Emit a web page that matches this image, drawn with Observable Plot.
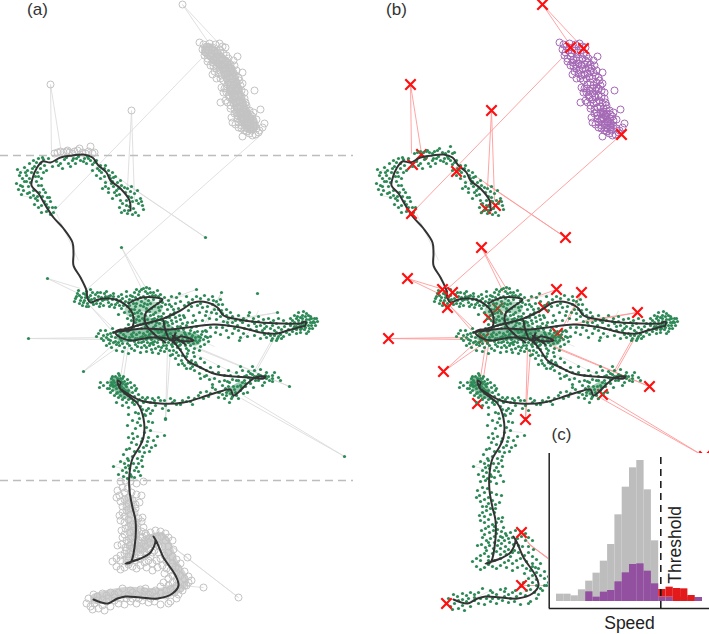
<!DOCTYPE html>
<html><head><meta charset="utf-8">
<script src="https://cdn.jsdelivr.net/npm/d3@7"></script>
<script src="https://cdn.jsdelivr.net/npm/@observablehq/plot@0.6"></script>
<style>html,body{margin:0;padding:0;background:#fff}#wrap{position:relative;width:709px;height:634px;overflow:hidden}#wrap svg{display:block}#inset{position:absolute;left:548px;top:453px;background:#fff}</style>
</head><body><div id="wrap"><div id="main"></div><div id="inset"></div></div>
<script>
// Track positions (map units)
const trackMain=[[130,210],[129,200],[120,188],[110,180],[106,172],[98,165],[92,157],[83,154],[72,155],[60,157],[50,162],[42,161],[36,168],[32,178],[31,185],[38,193],[45,205],[53,217],[63,228],[72,242],[73,253],[73,265],[80,277],[86,290],[87,298],[90,302],[98,299],[110,298],[120,301],[128,307],[132,313],[133,323],[129,330],[120,329],[115,332],[120,337],[132,340],[150,337],[170,339],[180,350],[187,360],[200,367],[213,373],[233,376],[250,377],[263,378],[265,376],[255,377],[248,382],[233,395],[230,389],[223,390],[207,395],[183,402],[160,403],[140,400],[127,393],[119,387],[117,380],[120,382],[119,387],[127,395],[137,403],[143,418],[143,437],[138,448],[132,458],[129,473],[129,490],[132,507],[135,520],[134,547],[130,562],[125,563],[140,558],[150,552],[155,540],[153,536],[156,541],[163,557],[175,575],[178,585],[172,593],[157,598],[140,597],[125,596],[117,598],[107,603],[93,599]];
const trackUpper=[[128,303],[142,297],[162,299],[153,306],[145,313],[145,323],[153,333],[165,342]];
const trackRight=[[113,332],[137,325],[163,318],[180,310],[193,302],[207,302],[217,307],[223,315],[233,318],[260,322],[283,323],[300,323],[305,321],[305,325],[302,326],[287,330],[277,333],[260,332],[240,327],[213,324],[187,327],[167,329],[143,328],[120,331]];
const trackCore=[[163,320],[165,330],[170,340],[175,333],[172,342],[180,336],[193,340],[178,340],[172,335],[185,344]];
// Observations below the speed threshold, central section
const arcDots=[[17,169],[20,172],[24,167],[29,163],[33,160],[38,158],[42,157],[27,170],[34,166],[22,178],[26,175],[31,172],[16,183],[20,185],[24,181],[28,186],[37,172],[40,168],[44,165],[18,189],[23,190],[27,193],[33,190],[38,185],[41,178],[30,197],[35,198],[39,192],[43,189],[47,197],[34,204],[38,207],[44,201],[48,207],[41,212],[46,211],[52,207],[37,200],[50,214],[55,207],[43,159],[48,158],[52,166],[56,161],[60,163],[64,159],[68,163],[72,160],[76,158],[70,166],[62,168],[80,160],[84,158],[86,163],[90,160],[94,162],[97,168],[92,170],[100,165],[101,172],[96,175],[104,176],[108,170],[112,172],[100,178],[105,182],[110,178],[115,176],[117,182],[102,188],[108,188],[113,186],[120,180],[124,187],[108,192],[114,192],[119,194],[125,192],[112,198],[130,191],[134,193],[136,200],[128,196],[122,203],[119,207],[124,210],[129,206],[133,208],[138,203],[142,205],[143,209],[127,213],[132,214],[138,215],[121,212],[137,190],[126,200],[35,176],[29,178],[21,194],[46,170],[58,165],[75,163],[88,158],[104,168],[112,181],[118,188],[132,201],[140,198],[19,175],[25,172],[36,162],[40,163],[32,168],[43,172],[38,176],[30,182],[26,181],[22,186],[36,181],[41,185],[33,195],[29,192],[37,196],[42,196],[45,192],[50,201],[41,205],[46,204],[53,212],[49,197],[66,157],[73,158],[78,156],[83,161],[87,156],[92,164],[96,160],[99,170],[105,165],[109,175],[113,177],[105,186],[111,183],[116,190],[121,185],[127,188],[131,186],[126,205],[120,200],[135,212],[131,197],[128,210],[141,201],[116,195]];
const westDots=[[76,296],[78,290],[80,300],[83,293],[85,297],[87,303],[82,305],[90,295],[92,292],[94,298],[96,303],[98,296],[100,292],[102,300],[105,296],[108,302],[110,295],[112,299],[115,304],[118,296],[86,291],[89,300],[93,304],[99,306],[106,291],[103,305],[113,293],[120,300],[74,301],[79,295],[84,300],[88,306],[91,299],[95,294],[101,297],[107,299],[111,304],[116,299],[121,294],[104,293],[77,293],[81,297],[85,294],[88,297],[92,302],[97,300],[100,303],[104,299],[108,296],[113,296],[117,302],[97,292],[90,289],[83,302],[79,303],[75,298],[86,306],[109,306],[119,305],[123,305],[114,307]];
const upperDots=[[122,298],[126,291],[130,295],[134,292],[138,294],[141,289],[145,291],[149,288],[153,292],[157,290],[160,294],[164,297],[168,300],[171,296],[125,301],[129,299],[133,303],[137,299],[141,301],[145,298],[149,296],[153,299],[157,303],[161,306],[165,304],[127,306],[131,309],[135,306],[139,310],[143,306],[147,304],[151,308],[155,312],[159,310],[163,313],[167,309],[171,306],[175,303],[130,315],[134,313],[138,316],[142,318],[146,311],[150,315],[154,318],[158,316],[162,320],[166,317],[170,314],[174,312],[178,308],[131,320],[135,322],[139,320],[143,323],[147,319],[151,322],[155,325],[159,323],[163,326],[167,322],[171,320],[175,317],[179,315],[124,312],[127,318],[121,308],[118,314],[128,324],[133,327],[137,325],[141,328],[145,326],[149,329],[153,327],[157,330],[148,300],[144,303],[136,289],[152,295],[140,297],[132,300],[160,300],[169,304],[173,309],[126,296],[150,292],[146,287],[158,296],[128,302],[136,303],[134,309],[140,305],[146,308],[150,303],[154,306],[158,307],[162,302],[129,311],[133,317],[137,312],[141,313],[145,315],[149,311],[153,314],[157,319],[161,316],[165,321],[169,317],[173,314],[136,319],[140,324],[144,320],[148,323],[152,319],[156,322],[160,319],[164,323],[168,325],[172,323],[176,321],[180,319],[184,317],[129,305],[143,296],[155,295],[147,293],[139,291],[143,288],[132,296],[135,297]];
const coreDots=[[103,335],[105,330],[108,339],[110,333],[112,328],[113,342],[115,337],[117,331],[119,345],[121,340],[123,334],[125,328],[127,343],[129,337],[131,348],[133,332],[135,344],[137,338],[139,332],[141,347],[143,341],[145,335],[147,331],[149,345],[151,339],[153,333],[155,348],[157,342],[159,336],[161,331],[163,345],[165,339],[167,334],[169,350],[171,344],[173,338],[175,332],[177,347],[179,341],[181,335],[183,329],[185,345],[187,339],[189,333],[191,327],[193,343],[195,337],[197,331],[199,340],[201,334],[203,339],[205,336],[98,333],[101,338],[106,345],[111,347],[116,350],[122,351],[128,353],[134,350],[140,352],[146,351],[152,352],[158,353],[164,351],[170,355],[176,352],[182,355],[188,350],[194,348],[200,346],[175,358],[181,360],[186,356],[191,360],[196,364],[184,365],[190,368],[200,358],[204,362],[178,364],[166,345],[161,347],[156,337],[148,336],[142,336],[136,334],[130,340],[124,338],[118,342],[109,343],[113,332],[107,334],[120,332],[127,331],[132,336],[138,342],[144,345],[150,343],[168,342],[174,343],[180,344],[186,336],[192,335],[198,336],[172,328],[177,326],[182,323],[187,322],[192,322],[160,328],[155,329],[150,333],[178,330],[184,332],[190,330],[196,326],[202,331],[111,336],[115,341],[118,335],[122,343],[125,336],[128,340],[131,334],[134,341],[137,346],[140,337],[143,333],[146,339],[149,334],[152,342],[155,336],[158,332],[161,339],[164,335],[167,330],[170,337],[173,342],[176,336],[179,345],[182,339],[185,334],[188,342],[191,337],[194,332],[197,342],[200,337],[168,338],[163,342],[158,346],[153,344],[147,342],[141,342],[135,338],[129,345],[124,347],[120,338],[116,344],[110,340],[106,337],[176,342],[172,346],[178,337],[183,342],[186,348],[190,345],[195,340],[165,333],[170,333],[175,329],[180,326],[186,325],[162,336],[158,339],[154,341],[150,337],[146,347],[151,349],[160,350],[166,348],[173,350],[180,349],[187,353],[193,352],[199,350],[204,344],[208,341],[210,336],[206,331],[103,340],[100,330],[96,336],[182,363],[188,362],[194,356],[172,354],[178,355]];
const eastDots=[[176,297],[180,301],[184,305],[179,293],[188,302],[186,296],[192,299],[196,296],[200,298],[204,295],[208,299],[212,296],[216,301],[220,299],[197,305],[202,307],[207,306],[212,304],[218,309],[222,304],[226,309],[230,312],[222,313],[216,313],[226,315],[232,316],[211,312],[205,315],[199,312],[193,315],[188,310],[183,315],[195,320],[202,320],[209,318],[216,319],[223,321],[235,320],[238,315],[243,318],[248,315],[253,318],[258,316],[263,319],[268,318],[273,320],[278,318],[283,320],[237,325],[242,322],[248,325],[254,323],[260,325],[266,326],[272,325],[278,327],[284,326],[290,325],[215,332],[220,334],[226,330],[232,333],[238,330],[243,333],[240,337],[247,336],[254,335],[260,338],[266,337],[271,340],[277,338],[283,336],[289,334],[274,335],[268,333],[262,330],[256,330],[250,329],[244,328],[205,330],[210,327],[216,327],[222,327],[228,325],[234,328],[276,340],[281,338],[239,340],[207,337],[228,337],[213,300],[218,304],[221,310],[228,318],[214,309],[206,311],[200,303],[191,306],[220,316],[227,322],[232,322],[240,320],[246,320],[252,321],[258,321],[264,323],[270,322],[276,323],[281,329],[270,328],[264,328],[256,326],[274,330],[270,335],[264,334],[280,334],[286,332],[276,332],[278,336],[272,338]];
const farEastDots=[[290,318],[294,315],[298,312],[302,315],[306,313],[310,316],[314,318],[317,321],[315,325],[312,328],[308,331],[304,329],[300,332],[296,329],[292,331],[288,329],[294,322],[298,320],[302,321],[306,319],[310,322],[304,325],[299,326],[294,326],[290,323],[312,322],[308,325],[305,316],[300,317],[296,318],[303,311],[309,319],[313,321],[301,328],[306,333],[296,333],[286,323],[316,318],[298,323],[302,318],[306,322],[309,328],[305,327],[311,325],[314,322],[292,320],[296,326],[300,329],[308,315],[303,323],[293,328],[297,316],[311,318],[301,325]];
const riverDots=[[190,363],[194,370],[199,373],[204,376],[209,379],[214,378],[219,381],[224,380],[229,382],[195,362],[200,367],[206,370],[212,372],[218,372],[224,375],[230,375],[236,372],[242,370],[248,371],[254,370],[260,369],[266,372],[272,375],[278,377],[260,375],[266,378],[255,380],[250,383],[245,386],[240,390],[235,392],[231,398],[226,395],[240,385],[236,380],[246,375],[252,374],[258,380],[264,382],[272,381],[280,380],[225,388],[219,392],[215,389],[228,390],[233,386],[229,402],[238,398],[243,393],[224,398],[218,397],[238,376],[232,379],[244,380],[248,377],[256,376],[265,375],[272,378],[262,385],[253,387],[247,392],[230,393],[234,389],[237,386],[242,382],[226,392],[222,394],[228,386],[232,396],[236,395],[241,387],[245,383],[250,379],[254,376],[258,374],[262,377],[268,376],[269,380],[274,372],[250,373],[244,376],[238,380],[222,385],[227,381],[206,375],[200,378],[192,366],[186,368],[210,367],[218,366],[228,370],[240,366],[252,366],[212,384]];
const southWestDots=[[99,387],[103,385],[107,382],[111,378],[115,376],[119,375],[123,376],[127,379],[130,382],[134,385],[110,385],[114,382],[118,380],[122,383],[126,386],[112,390],[116,388],[120,391],[124,393],[128,390],[132,392],[136,388],[114,395],[118,397],[122,399],[126,402],[130,398],[134,396],[138,394],[142,397],[116,402],[122,405],[128,407],[134,404],[140,406],[113,380],[117,384],[121,386],[125,390],[129,395],[133,400],[137,401],[110,392],[107,388],[120,378],[124,381],[117,392],[112,384],[145,399],[150,402],[155,405],[160,400],[165,405],[170,398],[176,404],[182,400],[188,397],[194,398],[200,392],[206,391],[212,387],[218,392],[148,408],[154,400],[162,408],[172,402],[180,404],[190,401],[198,395],[208,396],[165,418],[138,413],[146,410],[111,382],[115,385],[119,387],[123,388],[127,392],[113,386],[117,378],[121,381],[125,384],[116,393],[120,395],[124,397],[128,399],[132,402],[109,388],[112,376],[118,373],[122,378],[127,383],[131,387],[135,390],[139,399],[143,402],[147,397],[152,398],[158,397],[164,400],[174,400],[186,401],[192,404],[203,398],[210,393],[152,410],[168,410],[144,414],[100,382]];
const stemDots=[[135,412],[139,418],[145,415],[148,421],[132,420],[135,428],[140,425],[146,427],[150,430],[132,433],[137,436],[142,438],[148,437],[153,440],[157,436],[164,435],[131,442],[136,444],[141,441],[146,445],[151,447],[129,448],[134,451],[139,451],[144,452],[149,451],[123,454],[127,458],[132,456],[137,458],[142,456],[124,463],[128,465],[133,463],[138,463],[141,460],[113,466],[122,470],[126,472],[130,474],[134,470],[138,471],[127,478],[131,476],[134,477],[129,468],[125,467],[128,414],[142,409],[150,413],[127,425],[152,422],[137,422],[144,432],[128,437],[155,445],[147,441],[133,438],[126,449],[143,447],[128,460],[136,467],[142,466],[120,461],[118,474],[123,476],[140,475]];
// Observations near the northern edge (grey rings in panel a)
const arcRings=[[54,153],[57,152],[60,151],[63,152],[66,151],[69,152],[72,153],[74,151],[77,150],[79,148],[82,152],[85,153],[90,146],[88,151],[92,153],[94,152],[67,150]];
// Northern roost cluster (grey rings in a, purple rings in b)
const topRings=[[199,42],[203,44],[206,46],[209,43],[212,47],[215,44],[219,43],[222,46],[225,47],[202,49],[205,52],[208,50],[211,53],[214,50],[217,52],[220,50],[223,53],[226,55],[204,55],[207,58],[210,56],[213,59],[216,57],[219,60],[222,58],[225,60],[228,58],[207,61],[212,62],[215,64],[218,63],[221,65],[224,64],[227,62],[230,64],[233,60],[237,56],[216,68],[219,70],[222,68],[225,69],[228,67],[231,68],[234,65],[212,74],[214,71],[218,73],[221,75],[224,74],[227,73],[230,71],[233,72],[236,70],[220,78],[223,80],[226,78],[229,76],[232,78],[235,75],[238,77],[242,72],[221,87],[224,88],[227,84],[230,82],[233,85],[236,82],[239,80],[242,83],[226,92],[229,90],[232,93],[235,90],[238,88],[241,90],[254,90],[220,102],[225,100],[229,97],[232,99],[235,97],[238,95],[241,96],[244,98],[230,105],[233,103],[236,102],[239,100],[242,103],[245,102],[230,108],[234,109],[237,107],[240,106],[243,108],[246,105],[260,109],[234,113],[237,115],[240,113],[243,111],[246,113],[249,110],[253,112],[237,118],[240,120],[243,118],[246,116],[249,118],[252,116],[232,122],[235,124],[238,122],[241,125],[244,123],[247,121],[250,123],[253,120],[256,119],[241,128],[244,127],[247,125],[250,127],[253,125],[256,128],[259,130],[262,127],[242,136],[246,131],[249,133],[252,135],[255,134],[258,132],[264,123],[216,78],[227,102],[231,117],[213,66],[216,60],[210,65],[226,88],[223,92],[234,95],[244,92],[240,85],[236,87],[246,108],[241,118],[236,112],[250,114],[247,128],[244,130],[238,127],[251,130],[228,95],[232,88],[245,115]];
const lowRings=[[120,481],[125,480],[130,481],[136,483],[143,481],[119,495],[117,490],[122,487],[127,488],[131,492],[136,494],[141,495],[116,497],[120,501],[124,499],[128,503],[132,500],[135,504],[139,502],[119,515],[122,512],[126,510],[130,514],[134,512],[138,518],[142,517],[120,520],[124,522],[128,519],[132,524],[136,522],[141,521],[143,527],[121,530],[125,528],[129,532],[133,530],[137,529],[141,531],[145,533],[122,537],[126,540],[130,538],[134,536],[138,540],[142,537],[146,535],[150,532],[155,530],[160,531],[165,533],[168,537],[172,540],[117,545],[121,544],[125,547],[129,545],[133,548],[137,545],[141,543],[145,546],[149,542],[153,544],[157,538],[161,536],[165,540],[112,561],[116,558],[120,555],[124,553],[128,556],[132,553],[136,551],[140,554],[144,551],[148,549],[116,566],[120,569],[124,567],[128,564],[132,566],[136,568],[140,565],[144,562],[148,560],[152,563],[156,560],[160,558],[164,555],[168,552],[172,556],[176,559],[180,563],[152,570],[157,567],[162,565],[166,568],[170,570],[175,567],[164,573],[168,578],[172,575],[176,572],[180,575],[184,578],[188,576],[191,580],[163,582],[168,585],[172,582],[176,585],[180,588],[184,585],[188,582],[174,592],[178,594],[182,590],[176,598],[170,601],[165,595],[160,593],[156,596],[152,592],[148,594],[144,591],[140,589],[136,594],[132,592],[128,595],[122,588],[118,592],[114,594],[110,592],[106,595],[102,593],[97,596],[93,594],[88,598],[86,603],[90,606],[94,603],[98,600],[102,605],[106,601],[110,606],[114,600],[118,603],[124,604],[130,601],[136,603],[142,600],[148,602],[154,601],[160,604],[168,603],[104,610],[98,608],[92,609],[124,492],[128,497],[122,506],[126,506],[130,508],[135,508],[124,516],[128,526],[134,526],[124,534],[128,542],[136,533],[140,536],[144,540],[148,538],[152,537],[158,545],[154,550],[150,556],[146,554],[140,548],[134,542],[126,550],[120,560],[128,560],[134,560],[140,558],[146,567],[152,552],[158,552],[162,546],[168,546],[173,549],[166,561],[172,563],[178,568],[184,571],[186,585],[170,589],[166,590],[150,598],[144,596],[138,598],[132,598],[126,598],[120,598],[114,597],[108,598],[102,599],[130,590],[145,588],[155,590],[160,586],[176,579],[172,566]];
// Isolated fixes and the two legs that join them to the track
const legs=[[182,4,210,45],[182,4,223,48],[50,84,51,153],[50,84,61,153],[131,110,127,187],[131,110,134,200],[261,134,85,290],[202,57,51,213],[205,237,117,177],[205,237,125,183],[121,247,147,290],[121,247,143,292],[47,278,80,288],[47,278,78,293],[196,289,165,300],[221,292,202,327],[221,292,207,322],[277,312,225,320],[277,312,205,325],[28,338,108,337],[28,338,108,339],[83,371,115,342],[83,371,120,345],[165,419,167,348],[165,419,170,350],[289,386,192,345],[289,386,194,347],[272,338,253,372],[274,338,255,372],[125,345,120,377],[128,345,123,377],[344,456,243,395],[344,456,241,398],[238,597,167,542],[238,597,169,544],[203,587,180,585],[187,557,170,545],[87,303,113,328],[85,300,111,330],[161,532,170,545],[161,585,178,585]];
const shortLegs=[[20,170,40,172],[20,195,38,198],[100,178,120,186],[122,187,138,202],[131,201,144,207],[165,300,188,294],[210,306,222,296],[240,340,252,328],[258,310,252,322],[225,320,240,316],[300,325,285,333],[118,340,104,333],[131,345,122,352],[148,335,170,345],[200,340,214,346],[198,372,214,378],[196,354,240,376],[142,430,162,432],[135,455,115,465],[128,470,114,466],[95,296,108,305],[56,213,78,260],[198,400,214,388],[124,500,134,512],[132,530,144,520],[150,545,140,560],[165,575,180,580],[110,600,130,590],[150,600,165,590]];
const ringOutliers=[[182,4],[50,84],[131,110],[238,597],[203,587],[187,557]];
const dotOutliers=[[205,237],[121,247],[47,278],[28,338],[83,371],[289,386],[344,456],[165,419],[196,289],[221,292],[277,312],[249,312],[257,293]];
const crossesOver=[[182,4],[210,47],[223,48],[50,84],[131,110],[261,134],[205,237],[51,213],[96,171],[121,247],[47,278],[82,289],[92,292],[87,307],[196,289],[221,292],[277,312],[28,338],[83,371],[165,419],[289,386],[161,532],[161,585],[86,603],[344,456]];
const crossesUnder=[[52,164],[61,154],[125,208],[135,205],[117,403],[242,394],[137,308],[128,317],[123,338],[197,333],[183,307]];
// Dense parts of the clouds
const coreUpper=[[130,310],[142,305],[156,308]];
const coreMiddle=[[122,336],[140,334],[165,334],[195,339]];
const coreDiag=[[140,318],[152,325],[168,330]];
const coreSW=[[115,382],[124,392]];
const coreRiver=[[230,391],[240,385]];
const coreTop=[[208,50],[226,68],[236,95],[242,112],[251,125]];
const coreLowA=[[128,500],[133,540],[128,560]];
const coreLowB=[[140,548],[160,537],[172,562],[182,582],[165,592],[125,592],[95,598]];
// Histogram (c)
const speedBins=[0,1,2,3,4,5,6,7,8,9,10,11,12,13];
const allCounts=[22,22,17,35,61,85,121,171,260,343,401,423,335,182];
const lowBins=[4,5,6,7,8,9,10,11,12,13,14,15,16,17,18,19];
const lowCounts=[29,13,28,33,59,86,111,113,91,53,13,13,13,13,13,12];
const highBins=[14,15,16,17,18];
const highBase=[13,13,0,0,0];
const highTop=[36,43,39,38,18];
const threshold=14.29;

const cGreen="#2d8a57",cGrayR="#c3c3c3",cPurple="#a468b5",cTrack="#333",cRed="#ff0f0f";
const Px=d=>d[0],Py=d=>d[1];
const belowAll=[...arcDots,...westDots,...upperDots,...coreDots,...eastDots,...farEastDots,...riverDots,...southWestDots,...stemDots];
const coreLine=(pts,w,o,c,dx)=>Plot.line(pts,{x:Px,y:Py,stroke:c,strokeWidth:w,strokeOpacity:o,strokeLinecap:"round",strokeLinejoin:"round",curve:"catmull-rom",dx});
const greenCores=dx=>[coreLine(coreUpper,12,.35,cGreen,dx),coreLine(coreMiddle,12,.5,cGreen,dx),coreLine(coreDiag,12,.45,cGreen,dx),coreLine(coreSW,13,.55,cGreen,dx),coreLine(coreRiver,8,.45,cGreen,dx)];
const tracks=dx=>[trackMain,trackUpper,trackRight,trackCore].map(t=>Plot.line(t,{x:Px,y:Py,stroke:cTrack,strokeWidth:2,curve:"catmull-rom",dx}));
const legMark=(data,stroke,w,dx)=>Plot.link(data,{x1:d=>d[0],y1:d=>d[1],x2:d=>d[2],y2:d=>d[3],stroke,strokeWidth:w,dx});
const dots=(data,dx)=>Plot.dot(data,{x:Px,y:Py,r:1.6,fill:cGreen,dx});
const rings=(data,stroke,dx,o=1)=>Plot.dot(data,{x:Px,y:Py,r:3.5,stroke,strokeWidth:1,strokeOpacity:o,fill:"none",dx});
const cross=(data,dx)=>Plot.dot(data,{x:Px,y:Py,symbol:"times",r:4.8,stroke:cRed,strokeWidth:2.2,dx});

const main=Plot.plot({width:709,height:634,margin:0,
 x:{domain:[0,709],range:[0,709],axis:null},y:{domain:[0,634],range:[0,634],axis:null},
 style:{background:"#fff"},
 marks:[
  // panel (a)
  legMark(legs,"#dcdcdc",.9,0),legMark(shortLegs,"#e2e2e2",.8,0),
  Plot.ruleY([155,480],{x1:0,x2:353,stroke:"#bdbdbd",strokeWidth:1.5,strokeDasharray:"8 5"}),
  coreLine(coreTop,15,.9,cGrayR,0),coreLine(coreLowA,12,.6,cGrayR,0),coreLine(coreLowB,11,.75,cGrayR,0),
  rings(topRings,cGrayR,0),rings(arcRings,cGrayR,0),rings(lowRings,cGrayR,0),rings(ringOutliers,cGrayR,0),
  ...greenCores(0),dots(belowAll,0),dots(dotOutliers,0),...tracks(0),
  // panel (b)
  legMark(shortLegs,"#e2e2e2",.8,360),legMark(legs,"#ff9a9a",.9,360),
  cross(crossesUnder,360),
  ...greenCores(360),dots(belowAll,360),dots(arcRings,360),dots(lowRings,360),
  coreLine(coreTop.slice(3),8,.6,cPurple,360),rings(topRings,cPurple,360),
  ...tracks(360),cross(crossesOver,360),
  Plot.text(["(a)"],{x:[37],y:[9],fontSize:17,fill:"#333",fontFamily:"Liberation Sans"}),
  Plot.text(["(b)"],{x:[396],y:[9],fontSize:17,fill:"#333",fontFamily:"Liberation Sans"}),
  Plot.text(["(c)"],{x:[561],y:[434],fontSize:17,fill:"#333",fontFamily:"Liberation Sans"}),
  Plot.text(["Speed"],{x:[629],y:[623],fontSize:17.5,fill:"#222",fontFamily:"Liberation Sans"})
 ]});
document.getElementById("main").append(main);

const inset=Plot.plot({width:161,height:157,margin:0,
 x:{domain:[-1.096,20.96],range:[0,161],axis:null},y:{domain:[-21,444],range:[155,0],axis:null},
 style:{background:"#fff"},
 marks:[
  Plot.rectY(speedBins,{x1:d=>d,x2:d=>d+1,y1:0,y2:(d,i)=>allCounts[i],fill:"#bdbdbd"}),
  Plot.rectY(lowBins,{x1:d=>d,x2:d=>d+1,y1:0,y2:(d,i)=>lowCounts[i],fill:"#9350a0"}),
  Plot.rectY(highBins,{x1:d=>d,x2:d=>d+1,y1:(d,i)=>highBase[i],y2:(d,i)=>highTop[i],fill:"#e31a1c"}),
  Plot.ruleX([-1],{y1:-21,y2:444,stroke:"#222",strokeWidth:1.5}),
  Plot.ruleY([-21],{x1:-1,x2:20.96,stroke:"#222",strokeWidth:1.5}),
  Plot.ruleX([threshold],{y1:-21,y2:444,stroke:"#111",strokeWidth:1.5,strokeDasharray:"7 5"}),
  Plot.text(["Threshold"],{x:[16.3],y:[170],rotate:-90,fontSize:17.5,fill:"#222",fontFamily:"Liberation Sans"})
 ]});
document.getElementById("inset").append(inset);
</script></body></html>
